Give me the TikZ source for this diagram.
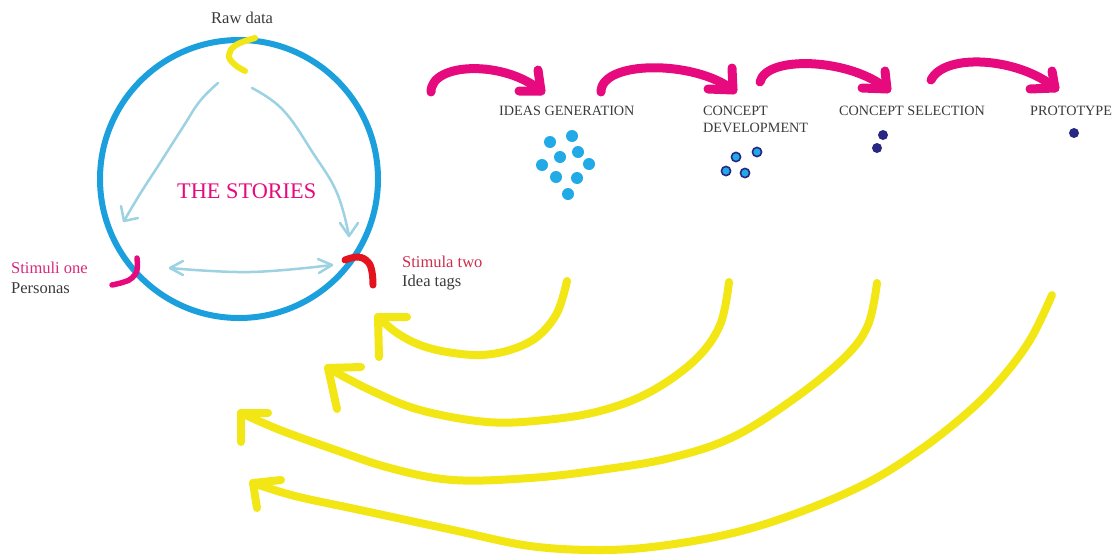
\documentclass[tikz,border=0pt]{standalone}
\usepackage{fontspec}
\setmainfont{Liberation Serif}
\definecolor{ring}{RGB}{27,160,221}
\definecolor{ylw}{RGB}{242,230,20}
\definecolor{mag}{RGB}{230,10,126}
\definecolor{redm}{RGB}{228,20,30}
\definecolor{pale}{RGB}{156,210,226}
\definecolor{dotblue}{RGB}{33,170,230}
\definecolor{navy}{RGB}{40,40,130}
\definecolor{txt}{RGB}{58,58,58}
\definecolor{pinktxt}{RGB}{215,40,125}
\definecolor{redtxt}{RGB}{205,45,75}
\begin{document}
\begin{tikzpicture}[x=1pt,y=-1pt,
  lbl/.style={inner sep=0pt,anchor=base west,text=txt,font=\fontsize{16.5}{18}\selectfont},
  stage/.style={inner sep=0pt,anchor=base west,text=txt,font=\fontsize{14.2}{17}\selectfont},
  ystroke/.style={draw=ylw,line width=8pt,line cap=round,line join=round},
  mstroke/.style={draw=mag,line width=9pt,line cap=round,line join=round},
  pstroke/.style={draw=pale,line width=2.5pt,line cap=round,line join=round},
  idot/.style={fill=dotblue,draw=none},
  ddot/.style={fill=dotblue,draw=navy,line width=1.6pt},
  ndot/.style={fill=navy,draw=none}]
\useasboundingbox (0,0) rectangle (1115,557);

% ---- the circle ----
\node[circle,draw=ring,line width=6pt,minimum size=278pt,inner sep=0pt] (ring) at (239,179) {};
\node[inner sep=0pt,anchor=base west,text=mag,font=\fontsize{22.3}{24}\selectfont] (stories) at (177,198) {THE STORIES};

% ---- labels round the circle ----
\node[lbl] (raw) at (211,23) {Raw data};
\node[lbl,text=pinktxt] (stim1) at (11,273) {Stimuli one};
\node[lbl] (pers) at (11,293) {Personas};
\node[lbl,text=redtxt] (stim2) at (402,267) {Stimula two};
\node[lbl] (tags) at (402,286) {Idea tags};

% ---- marks on the circle ----
\draw[draw=ylw,line width=6pt,line cap=round] plot[smooth,tension=0.7] coordinates {(255,38) (236,45) (229,55) (234,64) (245,71)};
\draw[draw=mag,line width=5.5pt,line cap=round] plot[smooth,tension=0.7] coordinates {(137,258) (137,270) (132,278) (124,282) (112,285)};
\draw[draw=redm,line width=7pt,line cap=round] plot[smooth,tension=0.7] coordinates {(345,260) (358,257) (368,262) (372,272) (373,285)};

% ---- pale inner arrows ----
\coordinate (lt) at (124,221);
\coordinate (rt) at (349,236);
\coordinate (bl) at (170,268);
\coordinate (br) at (332,265);
\draw[pstroke] plot[smooth,tension=0.7] coordinates {(218,83) (200,101) (183,127) (160,163) (140,194) (lt)};
\draw[pstroke] (121,206) -- (lt) -- (138,218);
\draw[pstroke] plot[smooth,tension=0.7] coordinates {(252,88) (283,110) (313,153) (337,193) (rt)};
\draw[pstroke] (340,223) -- (rt) -- (358,223);
\draw[pstroke] plot[smooth,tension=0.7] coordinates {(bl) (250,272) (br)};
\draw[pstroke] (183,261) -- (bl) -- (183,275);
\draw[pstroke] (318,259) -- (br) -- (319,273);

% ---- stage labels ----
\node[stage] (ideas) at (499,115) {IDEAS GENERATION};
\node[stage] (cdev1) at (703,115) {CONCEPT};
\node[stage] (cdev2) at (703,132) {DEVELOPMENT};
\node[stage] (csel) at (839,115) {CONCEPT SELECTION};
\node[stage] (proto) at (1030,115) {PROTOTYPE};

% ---- magenta arrows ----
\coordinate (m1) at (541,91);
\coordinate (m2) at (733,90);
\coordinate (m3) at (887,89);
\coordinate (m4) at (1055,88);
\draw[mstroke] (431,92) .. controls (431,62) and (505,60) .. (m1);
\draw[mstroke] (538,70) -- (m1) -- (519,91);
\draw[mstroke] (601,92) .. controls (601,60) and (695,60) .. (m2);
\draw[mstroke] (732,68) -- (m2) -- (708,89);
\draw[mstroke] (760,82) .. controls (766,55) and (850,58) .. (m3);
\draw[mstroke] (885,71) -- (m3) -- (862,88);
\draw[mstroke] (931,80) .. controls (945,52) and (1020,58) .. (m4);
\draw[mstroke] (1052,71) -- (m4) -- (1030,89);

% ---- dots ----
\foreach \p in {(572,136),(550,142),(578,152),(560,157),(542,165),(589,164),(556,177),(577,178),(568,194)}
  \fill[idot] \p circle (6pt);
\foreach \p in {(757,152),(736,157),(726,171),(745,173)}
  \filldraw[ddot] \p circle (4.6pt);
\fill[ndot] (883,135) circle (5pt);
\fill[ndot] (877,148) circle (5pt);
\fill[ndot] (1074,133) circle (5pt);

% ---- yellow return arrows ----
\coordinate (y1) at (378,317);
\coordinate (y2) at (328,368);
\coordinate (y3) at (241,413);
\coordinate (y4) at (253,483);
\draw[ystroke] plot[smooth,tension=0.6] coordinates {(567,281) (557,313) (537,337) (510,350) (480,355) (447,352) (420,345) (397,333) (y1)};
\draw[ystroke] (407,317) -- (y1) -- (379,357);
\draw[ystroke] plot[smooth,tension=0.6] coordinates {(729,282) (720,325) (695,360) (650,392) (600,411) (545,420) (487,422) (420,410) (370,390) (y2)};
\draw[ystroke] (361,367) -- (y2) -- (337,409);
\draw[ystroke] plot[smooth,tension=0.6] coordinates {(877,283) (868,325) (845,357) (795,398) (733,437) (670,458) (600,470) (530,478) (453,480) (390,468) (330,448) (280,430) (y3)};
\draw[ystroke] (268,413) -- (y3) -- (241,442);
\draw[ystroke] plot[smooth,tension=0.6] coordinates {(1052,295) (1030,340) (1000,380) (967,413) (920,450) (867,483) (800,512) (733,533) (660,546) (600,550) (530,546) (453,530) (360,510) (295,496) (y4)};
\draw[ystroke] (281,480) -- (y4) -- (257,508);
\end{tikzpicture}
\end{document}
